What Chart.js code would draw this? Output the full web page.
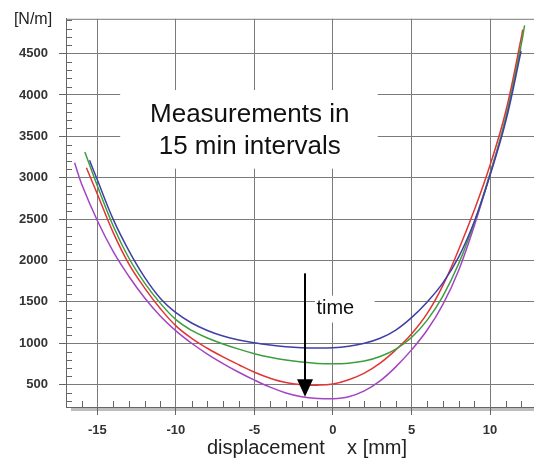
<!DOCTYPE html>
<html>
<head>
<meta charset="utf-8">
<script src="https://cdn.jsdelivr.net/npm/chart.js@4.4.1/dist/chart.umd.min.js"></script>
<style>
  html, body { margin: 0; padding: 0; background: #fff; }
</style>
</head>
<body>
<canvas id="myChart" width="534" height="467"></canvas>
<script>
// axis ticks
const xTicks = [-15, -10, -5, 0, 5, 10]
const yTicks = [500, 1000, 1500, 2000, 2500, 3000, 3500, 4000, 4500]

// curves, x in mm, y in N/m
const blueX = [-15.5, -15, -14, -13, -12, -11, -10, -9, -8, -7, -6, -5, -4, -3, -2, -1, 0, 1, 2, 3, 4, 5, 6, 7, 8, 9, 10, 11, 11.98]
const blueY = [3210, 2972, 2500, 2120, 1800, 1545, 1370, 1245, 1155, 1088, 1040, 1005, 978, 958, 946, 942, 946, 965, 1000, 1060, 1160, 1310, 1500, 1730, 2040, 2470, 3030, 3680, 4530]

const greenX = [-15.8, -15, -14, -13, -12, -11, -10, -9, -8, -7, -6, -5, -4, -3, -2, -1, 0, 1, 2, 3, 4, 5, 6, 7, 8, 9, 10, 11, 12, 12.2]
const greenY = [3310, 2900, 2420, 2030, 1730, 1485, 1285, 1155, 1063, 992, 929, 874, 830, 797, 773, 757, 752, 760, 785, 840, 930, 1070, 1280, 1570, 1960, 2460, 3050, 3720, 4620, 4840]

const redX = [-15.7, -15, -14, -13, -12, -11, -10, -9, -8, -7, -6, -5, -4, -3, -2, -1, 0, 1, 2, 3, 4, 5, 6, 7, 8, 9, 10, 11, 12, 12.08]
const redY = [3120, 2800, 2340, 1960, 1670, 1420, 1210, 1060, 940, 835, 740, 650, 578, 525, 500, 494, 508, 560, 640, 760, 920, 1112, 1360, 1700, 2130, 2610, 3150, 3800, 4700, 4790]

const purpleX = [-16.45, -16, -15, -14, -13, -12, -11, -10, -9, -8, -7, -6, -5, -4, -3, -2, -1, 0, 1, 2, 3, 4, 5, 6, 7, 8, 9, 10, 11, 11.95]
const purpleY = [3180, 2920, 2480, 2110, 1810, 1550, 1330, 1150, 1000, 870, 755, 650, 555, 470, 400, 355, 334, 330, 355, 425, 545, 715, 920, 1160, 1470, 1880, 2420, 3040, 3720, 4560]

const FONT = 'Liberation Sans, Arial, sans-serif'

const toPoints = (xs, ys) => xs.map((x, i) => ({ x: x, y: ys[i] }))

const curve = (xs, ys, color) => ({
    data: toPoints(xs, ys),
    borderColor: color,
    borderWidth: 1.5,
    showLine: true,
    pointRadius: 0,
    tension: 0.4,
    fill: false
})

// white boxes behind the notes, minor ticks, frame bits, texts, arrow
const decor = {
    id: 'decor',
    beforeDraw(chart) {
        const ctx = chart.ctx
        const a = chart.chartArea
        ctx.save()
        ctx.fillStyle = '#fff'
        ctx.fillRect(0, 0, chart.width, chart.height)
        // grey shadow under the x axis
        ctx.fillStyle = '#bdbdbd'
        ctx.fillRect(a.left + 5, a.bottom, a.right - a.left - 5, 4)
        ctx.restore()
    },
    beforeDatasetsDraw(chart) {
        const ctx = chart.ctx
        const a = chart.chartArea
        const xs = chart.scales.x
        const ys = chart.scales.y
        ctx.save()

        // top frame line
        ctx.strokeStyle = '#7a7a7a'
        ctx.lineWidth = 1
        ctx.beginPath()
        ctx.moveTo(a.left, a.top + 0.5)
        ctx.lineTo(a.right, a.top + 0.5)
        ctx.stroke()

        // minor ticks
        ctx.strokeStyle = '#666'
        ctx.beginPath()
        for (let v = 300; v <= 4900; v += 100) {
            if (v % 500 === 0) continue
            const py = Math.round(ys.getPixelForValue(v)) + 0.5
            ctx.moveTo(a.left, py)
            ctx.lineTo(a.left + 6, py)
        }
        for (let v = -16; v <= 12; v += 1) {
            if (v % 5 === 0) continue
            const px = Math.round(xs.getPixelForValue(v)) + 0.5
            ctx.moveTo(px, a.bottom)
            ctx.lineTo(px, a.bottom - 6)
        }
        ctx.stroke()

        // white boxes over the grid
        ctx.fillStyle = '#fff'
        const box = (x1, y1, x2, y2) => {
            const l = xs.getPixelForValue(x1), r = xs.getPixelForValue(x2)
            const t = ys.getPixelForValue(y1), b = ys.getPixelForValue(y2)
            ctx.fillRect(l, t, r - l, b - t)
        }
        box(-13.55, 4060, 2.85, 3110)
        box(-1.15, 1575, 2.65, 1250)

        // texts
        ctx.fillStyle = '#111'
        ctx.textAlign = 'center'
        ctx.textBaseline = 'middle'
        ctx.font = '26px ' + FONT
        ctx.fillText('Measurements in', xs.getPixelForValue(-5.3), ys.getPixelForValue(3765))
        ctx.fillText('15 min intervals', xs.getPixelForValue(-5.3), ys.getPixelForValue(3375))
        ctx.font = '20px ' + FONT
        ctx.fillText('time', xs.getPixelForValue(0.15), ys.getPixelForValue(1420))

        ctx.fillStyle = '#222'
        ctx.font = '16px ' + FONT
        ctx.fillText('[N/m]', 33, 20)

        ctx.font = '20px ' + FONT
        ctx.textAlign = 'left'
        ctx.fillText('displacement    x [mm]', 207, 448)
        ctx.restore()
    },
    afterDatasetsDraw(chart) {
        const ctx = chart.ctx
        const xs = chart.scales.x
        const ys = chart.scales.y
        const px = xs.getPixelForValue(-1.78)
        const top = ys.getPixelForValue(1845)
        const headTop = ys.getPixelForValue(566)
        const tip = ys.getPixelForValue(354)
        ctx.save()
        ctx.strokeStyle = '#000'
        ctx.lineWidth = 2
        ctx.beginPath()
        ctx.moveTo(px, top)
        ctx.lineTo(px, headTop + 2)
        ctx.stroke()
        ctx.fillStyle = '#000'
        ctx.beginPath()
        ctx.moveTo(px - 8, headTop)
        ctx.lineTo(px + 8, headTop)
        ctx.lineTo(px, tip)
        ctx.closePath()
        ctx.fill()
        ctx.restore()
    }
}

const config = {
    type: 'scatter',
    data: {
        datasets: [
            curve(blueX, blueY, '#3f3fa8'),
            curve(greenX, greenY, '#3c9e3c'),
            curve(redX, redY, '#e23434'),
            curve(purpleX, purpleY, '#a444c4')
        ]
    },
    options: {
        responsive: false,
        animation: false,
        devicePixelRatio: 1,
        layout: { padding: { top: 16, right: 0, left: 0, bottom: 0 } },
        plugins: {
            legend: { display: false },
            tooltip: { enabled: false }
        },
        scales: {
            x: {
                type: 'linear',
                min: -17,
                max: 12.8,
                afterBuildTicks: (s) => { s.ticks = xTicks.map(v => ({ value: v })) },
                afterFit: (s) => { s.height = 60 },
                grid: {
                    color: '#7a7a7a',
                    lineWidth: 1,
                    drawTicks: true,
                    tickLength: 8,
                    tickColor: '#666'
                },
                border: { color: '#666', width: 1 },
                ticks: {
                    color: '#333',
                    padding: 8,
                    maxRotation: 0,
                    callback: (v) => String(v),
                    font: { family: FONT, size: 13, weight: 'bold' }
                }
            },
            y: {
                type: 'linear',
                min: 230,
                max: 4920,
                afterBuildTicks: (s) => { s.ticks = yTicks.map(v => ({ value: v })) },
                afterFit: (s) => { s.width = 66 },
                grid: {
                    color: '#7a7a7a',
                    lineWidth: 1,
                    drawTicks: true,
                    tickLength: 7,
                    tickColor: '#666'
                },
                border: { color: '#666', width: 1 },
                ticks: {
                    color: '#333',
                    padding: 11,
                    callback: (v) => String(v),
                    font: { family: FONT, size: 13, weight: 'bold' }
                }
            }
        }
    },
    plugins: [decor]
}

const myChart = new Chart(document.getElementById('myChart'), config)
</script>
</body>
</html>
